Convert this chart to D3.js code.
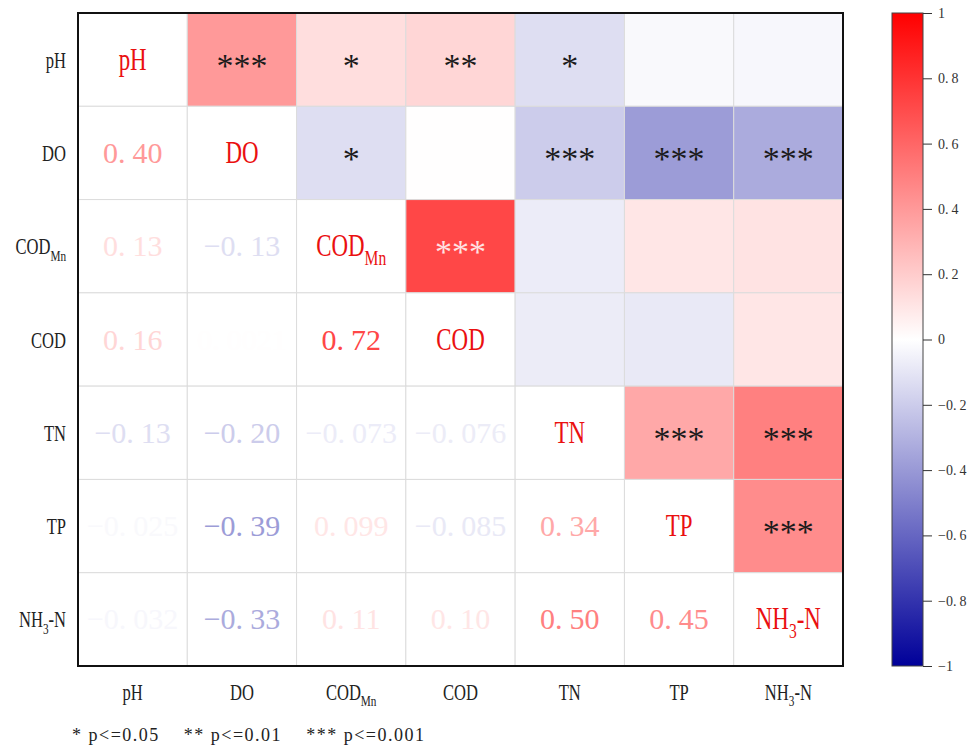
<!DOCTYPE html>
<html>
<head>
<meta charset="utf-8">
<script src="https://cdn.jsdelivr.net/npm/d3@7"></script>
<style>
body { margin: 0; background: #fff; }
svg text { font-family: "Liberation Serif", "Times New Roman", Times, "DejaVu Serif", serif !important; }
</style>
</head>
<body>
<div class="corr"></div>
<script>
// variables, lower triangle of r, lower triangle of significance (number of stars)
var names = ["pH", "DO", "CODMn", "COD", "TN", "TP", "NH3-N"];
var rLower = [
	[],
	[0.40],
	[0.13, -0.13],
	[0.16, 0.0021, 0.72],
	[-0.13, -0.20, -0.073, -0.076],
	[-0.025, -0.39, 0.099, -0.085, 0.34],
	[-0.032, -0.33, 0.11, 0.10, 0.50, 0.45]
];
var starLower = [
	[],
	[3],
	[1, 1],
	[2, 0, 3],
	[1, 3, 0, 0],
	[0, 3, 0, 0, 3],
	[0, 3, 0, 0, 3, 3]
];
var legendItems = ["* p<=0.05", "** p<=0.01", "*** p<=0.001"];
var barTicks = [-1, -0.8, -0.6, -0.4, -0.2, 0, 0.2, 0.4, 0.6, 0.8, 1];

var svg = d3.select('.corr')
	.append('svg')
	.attr('width', 972)
	.attr('height', 745);

var x = d3.scaleBand().domain(names).range([78, 843]);
var y = d3.scaleBand().domain(names).range([13, 666]);
var color = d3.scaleLinear().domain([-1, 0, 1]).range(['#000099', '#ffffff', '#ff0000']);
var fmt = d3.format('.2g');

function corr(i, j) {
	if (i == j) return 1;
	return i > j ? rLower[i][j] : rLower[j][i];
}
function stars(i, j) {
	return i > j ? starLower[i][j] : starLower[j][i];
}

// label with subscripts (COD_Mn, NH_3-N)
function parts(n) {
	if (n == 'CODMn') return [['COD', 0], ['Mn', 1]];
	if (n == 'NH3-N') return [['NH', 0], ['3', 1], ['-N', 0]];
	return [[n, 0]];
}
function writeLabel(t, n, fs) {
	t.text('');
	var p = parts(n);
	p.forEach(function (q, k) {
		var ts = t.append('tspan').text(q[0]);
		if (q[1]) ts.attr('font-size', (fs * 0.68) + 'px').attr('dy', fs * 0.28);
		else if (k > 0 && p[k - 1][1]) ts.attr('dy', -fs * 0.28);
	});
}
// numbers drawn with a wide gap after the decimal point
function writeNumber(t, s, gap) {
	t.text('');
	var k = s.indexOf('.');
	if (k < 0) { t.text(s); return; }
	t.append('tspan').text(s.slice(0, k + 1));
	t.append('tspan').attr('dx', gap).text(s.slice(k + 1));
}

var cells = [];
names.forEach(function (a, i) {
	names.forEach(function (b, j) {
		cells.push({ row: a, col: b, i: i, j: j, v: corr(i, j), s: i == j ? 0 : stars(i, j) });
	});
});

// cell backgrounds: only the upper triangle is filled
svg.append('g')
	.selectAll('rect')
	.data(cells)
	.enter()
	.append('rect')
	.attr('x', function (d) { return x(d.col); })
	.attr('y', function (d) { return y(d.row); })
	.attr('width', x.bandwidth())
	.attr('height', y.bandwidth())
	.style('fill', function (d) { return d.j > d.i ? color(d.v) : '#fff'; })
	.style('stroke', '#dcdcdc')
	.style('stroke-width', 1);

var cx = function (d) { return x(d.col) + x.bandwidth() / 2; };
var cy = function (d) { return y(d.row) + y.bandwidth() / 2; };

// lower triangle: r values
svg.append('g')
	.selectAll('text')
	.data(cells.filter(function (d) { return d.i > d.j; }))
	.enter()
	.append('text')
	.attr('x', cx)
	.attr('y', function (d) { return cy(d) + 10; })
	.attr('text-anchor', 'middle')
	.style('font-size', '30px')
	.style('fill', function (d) { return color(d.v); })
	.each(function (d) { writeNumber(d3.select(this), fmt(d.v), 7); });

// upper triangle: stars
svg.append('g')
	.selectAll('text')
	.data(cells.filter(function (d) { return d.j > d.i && d.s > 0; }))
	.enter()
	.append('text')
	.attr('x', cx)
	.attr('y', function (d) { return cy(d) + 17; })
	.attr('text-anchor', 'middle')
	.style('font-size', '34px')
	.style('fill', function (d) { return Math.abs(d.v) > 0.6 ? '#ffe2e2' : '#1a1a1a'; })
	.text(function (d) { return d3.range(d.s).map(function () { return '*'; }).join(''); });

// diagonal: names in red
svg.append('g')
	.selectAll('text')
	.data(cells.filter(function (d) { return d.i == d.j; }))
	.enter()
	.append('text')
	.attr('transform', function (d) { return 'translate(' + cx(d) + ',' + (cy(d) + 10) + ') scale(0.74,1)'; })
	.attr('text-anchor', 'middle')
	.style('font-size', '31px')
	.style('fill', '#ea1010')
	.each(function (d) { writeLabel(d3.select(this), d.row, 31); });

// frame
svg.append('rect')
	.attr('x', 78).attr('y', 13)
	.attr('width', 765).attr('height', 653)
	.style('fill', 'none')
	.style('stroke', '#111')
	.style('stroke-width', 2);

// axes
var xAxis = svg.append('g')
	.attr('transform', 'translate(0,666)')
	.call(d3.axisBottom(x).tickSize(0));
xAxis.select('.domain').remove();
xAxis.selectAll('text')
	.attr('y', 0).attr('dy', null)
	.attr('transform', 'translate(0,34) scale(0.72,1)')
	.style('font-size', '23px')
	.style('fill', '#222')
	.each(function (d) { writeLabel(d3.select(this), d, 23); });

var yAxis = svg.append('g')
	.attr('transform', 'translate(78,0)')
	.call(d3.axisLeft(y).tickSize(0));
yAxis.select('.domain').remove();
yAxis.selectAll('text')
	.attr('x', 0).attr('dy', null)
	.attr('transform', 'translate(-12,8) scale(0.72,1)')
	.style('font-size', '23px')
	.style('fill', '#222')
	.each(function (d) { writeLabel(d3.select(this), d, 23); });

// colorbar
var grad = svg.append('defs').append('linearGradient')
	.attr('id', 'bar')
	.attr('x1', 0).attr('y1', 1).attr('x2', 0).attr('y2', 0);
grad.selectAll('stop')
	.data(barTicks)
	.enter()
	.append('stop')
	.attr('offset', function (t) { return (t + 1) / 2; })
	.attr('stop-color', function (t) { return color(t); });

var barScale = d3.scaleLinear().domain([-1, 1]).range([666, 13]);
svg.append('rect')
	.attr('x', 892).attr('y', 13)
	.attr('width', 31).attr('height', 653)
	.style('fill', 'url(#bar)')
	.style('stroke', '#444')
	.style('stroke-width', 1);

var barAxis = svg.append('g')
	.attr('transform', 'translate(923,0)')
	.call(d3.axisRight(barScale).tickValues(barTicks).tickSize(9).tickPadding(6).tickFormat(d3.format('~g')));
barAxis.select('.domain').remove();
barAxis.selectAll('line').style('stroke', '#333');
barAxis.selectAll('text')
	.style('font-size', '14px')
	.style('fill', '#333')
	.each(function (t) { writeNumber(d3.select(this), d3.format('~g')(t), 3); });

// significance legend
var leg = svg.append('text')
	.attr('x', 72)
	.attr('y', 741)
	.style('font-size', '18px')
	.style('letter-spacing', '1.5px')
	.style('fill', '#222');
legendItems.forEach(function (s, k) {
	leg.append('tspan')
		.attr('dx', k ? 24 : 0)
		.text(s);
});
</script>
</body>
</html>
